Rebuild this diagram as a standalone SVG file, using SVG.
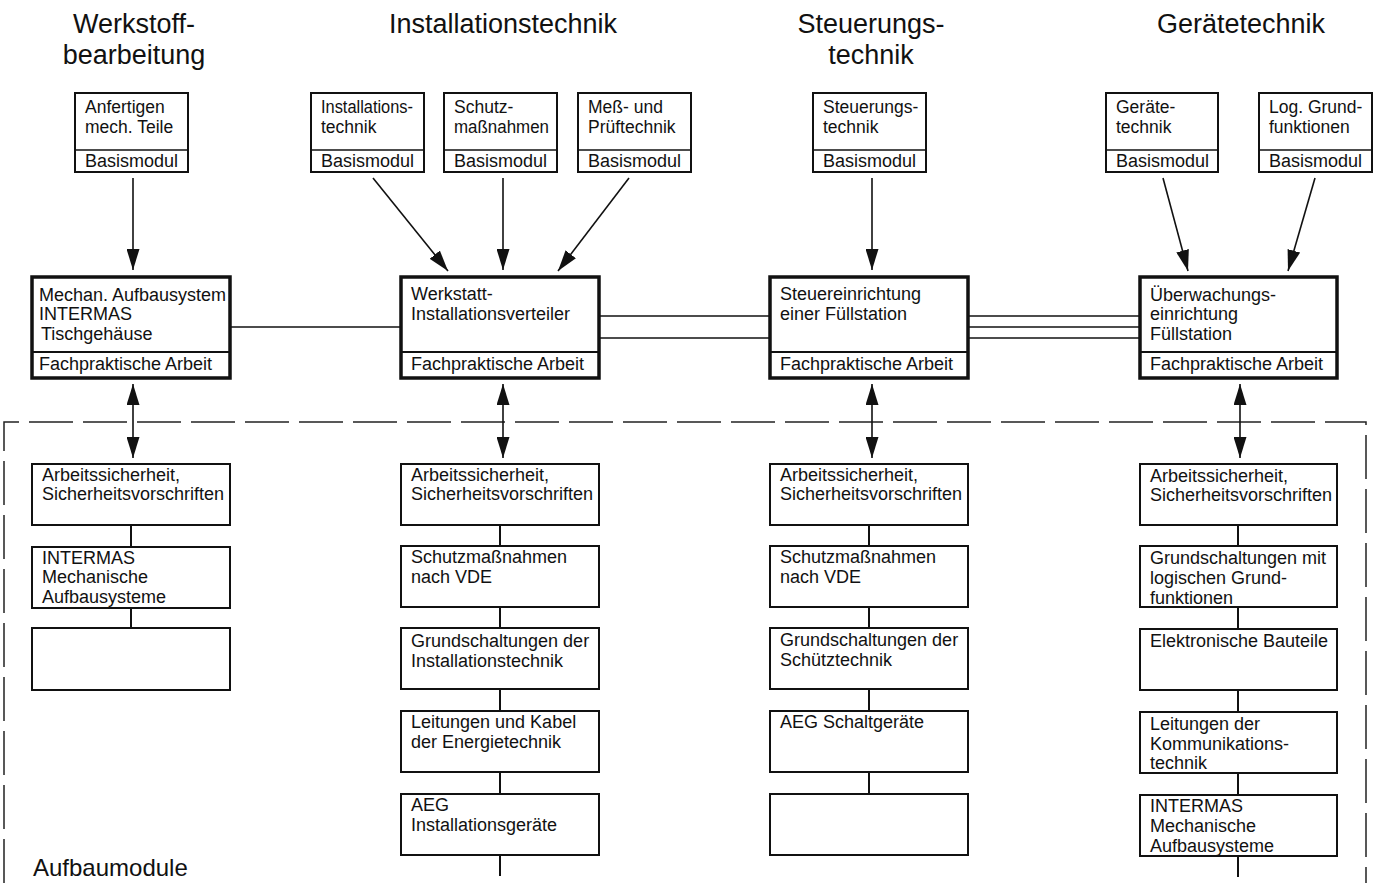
<svg xmlns="http://www.w3.org/2000/svg" width="1377" height="883" viewBox="0 0 1377 883">
<style>
text{font-family:"Liberation Sans",Arial,sans-serif;fill:#111}
.t{font-size:27px;text-anchor:middle}
.s{font-size:18px}
.u{font-size:17.5px}
.b{fill:#fff;stroke:#111;stroke-width:2}
.m{fill:#fff;stroke:#111;stroke-width:3.5}
.d{stroke:#111;stroke-width:2}
.dm{stroke:#111;stroke-width:1.5}
.ln{stroke:#111;stroke-width:1.5;fill:none}
.ar{stroke:#111;stroke-width:1.6;fill:none;marker-end:url(#ah)}
.da{stroke:#111;stroke-width:1.6;fill:none;marker-end:url(#ah);marker-start:url(#ah)}
.dash{stroke:#222;stroke-width:1.5;fill:none;stroke-dasharray:44 10}
</style>
<defs>
<marker id="ah" markerUnits="userSpaceOnUse" markerWidth="21" markerHeight="13" refX="21" refY="6.5" orient="auto-start-reverse">
<path d="M0,0 L21,6.5 L0,13 z" fill="#111"/>
</marker>
</defs>
<rect width="1377" height="883" fill="#fff"/>

<g id="titles">
<text class="t" x="134" y="33">Werkstoff-</text>
<text class="t" x="134" y="64">bearbeitung</text>
<text class="t" x="503" y="33">Installationstechnik</text>
<text class="t" x="871" y="33">Steuerungs-</text>
<text class="t" x="871" y="64">technik</text>
<text class="t" x="1241" y="33">Gerätetechnik</text>
</g>

<g id="frame">
<path class="dash" d="M4,883 L4,422 L1366,422 L1366,883"/>
</g>

<g id="connectors">
<line class="ar" x1="133" y1="178" x2="133" y2="270"/>
<line class="ar" x1="373" y1="178" x2="448" y2="271"/>
<line class="ar" x1="503" y1="178" x2="503" y2="270"/>
<line class="ar" x1="629" y1="178" x2="558" y2="271"/>
<line class="ar" x1="872" y1="178" x2="872" y2="270"/>
<line class="ar" x1="1163" y1="178" x2="1188" y2="271"/>
<line class="ar" x1="1315" y1="178" x2="1288" y2="271"/>
<line class="ln" x1="230" y1="327" x2="401" y2="327"/>
<line class="ln" x1="599" y1="316" x2="770" y2="316"/>
<line class="ln" x1="599" y1="338" x2="770" y2="338"/>
<line class="ln" x1="968" y1="316" x2="1140" y2="316"/>
<line class="ln" x1="968" y1="327" x2="1140" y2="327"/>
<line class="ln" x1="968" y1="338" x2="1140" y2="338"/>
<line class="da" x1="133" y1="384" x2="133" y2="458"/>
<line class="da" x1="503" y1="384" x2="503" y2="458"/>
<line class="da" x1="872" y1="384" x2="872" y2="458"/>
<line class="da" x1="1240" y1="384" x2="1240" y2="458"/>
<line class="d" x1="131" y1="525" x2="131" y2="547"/>
<line class="d" x1="131" y1="608" x2="131" y2="628"/>
<line class="d" x1="500" y1="525" x2="500" y2="546"/>
<line class="d" x1="500" y1="607" x2="500" y2="628"/>
<line class="d" x1="500" y1="689" x2="500" y2="711"/>
<line class="d" x1="500" y1="772" x2="500" y2="794"/>
<line class="d" x1="500" y1="855" x2="500" y2="876"/>
<line class="d" x1="869" y1="525" x2="869" y2="546"/>
<line class="d" x1="869" y1="607" x2="869" y2="628"/>
<line class="d" x1="869" y1="689" x2="869" y2="711"/>
<line class="d" x1="869" y1="772" x2="869" y2="794"/>
<line class="d" x1="1238" y1="525" x2="1238" y2="546"/>
<line class="d" x1="1238" y1="607" x2="1238" y2="628"/>
<line class="d" x1="1238" y1="689" x2="1238" y2="711"/>
<line class="d" x1="1238" y1="772" x2="1238" y2="794"/>
<line class="d" x1="1238" y1="855" x2="1238" y2="877"/>
</g>

<g id="basis1"><rect class="b" x="75" y="93" width="113" height="79"/><line class="dm" x1="75" y1="150" x2="188" y2="150"/>
<text class="u" x="85" y="113">Anfertigen</text><text class="u" x="85" y="133">mech. Teile</text><text class="s" x="85" y="167">Basismodul</text></g>
<g id="basis2"><rect class="b" x="311" y="93" width="113" height="79"/><line class="dm" x1="311" y1="150" x2="424" y2="150"/>
<text class="u" x="321" y="113" textLength="92" lengthAdjust="spacingAndGlyphs">Installations-</text><text class="u" x="321" y="133">technik</text><text class="s" x="321" y="167">Basismodul</text></g>
<g id="basis3"><rect class="b" x="444" y="93" width="113" height="79"/><line class="dm" x1="444" y1="150" x2="557" y2="150"/>
<text class="u" x="454" y="113">Schutz-</text><text class="u" x="454" y="133" textLength="95" lengthAdjust="spacingAndGlyphs">maßnahmen</text><text class="s" x="454" y="167">Basismodul</text></g>
<g id="basis4"><rect class="b" x="578" y="93" width="113" height="79"/><line class="dm" x1="578" y1="150" x2="691" y2="150"/>
<text class="u" x="588" y="113">Meß- und</text><text class="u" x="588" y="133">Prüftechnik</text><text class="s" x="588" y="167">Basismodul</text></g>
<g id="basis5"><rect class="b" x="813" y="93" width="113" height="79"/><line class="dm" x1="813" y1="150" x2="926" y2="150"/>
<text class="u" x="823" y="113">Steuerungs-</text><text class="u" x="823" y="133">technik</text><text class="s" x="823" y="167">Basismodul</text></g>
<g id="basis6"><rect class="b" x="1106" y="93" width="112" height="79"/><line class="dm" x1="1106" y1="150" x2="1218" y2="150"/>
<text class="u" x="1116" y="113">Geräte-</text><text class="u" x="1116" y="133">technik</text><text class="s" x="1116" y="167">Basismodul</text></g>
<g id="basis7"><rect class="b" x="1259" y="93" width="113" height="79"/><line class="dm" x1="1259" y1="150" x2="1372" y2="150"/>
<text class="u" x="1269" y="113">Log. Grund-</text><text class="u" x="1269" y="133">funktionen</text><text class="s" x="1269" y="167">Basismodul</text></g>

<g id="main1"><rect class="m" x="32" y="277" width="198" height="101"/><line class="d" x1="32" y1="352" x2="230" y2="352"/>
<text class="s" x="39" y="301">Mechan. Aufbausystem</text><text class="s" x="39" y="320">INTERMAS</text><text class="s" x="41" y="340">Tischgehäuse</text><text class="s" x="39" y="370">Fachpraktische Arbeit</text></g>
<g id="main2"><rect class="m" x="401" y="277" width="198" height="101"/><line class="d" x1="401" y1="352" x2="599" y2="352"/>
<text class="s" x="411" y="300">Werkstatt-</text><text class="s" x="411" y="320">Installationsverteiler</text><text class="s" x="411" y="370">Fachpraktische Arbeit</text></g>
<g id="main3"><rect class="m" x="770" y="277" width="198" height="101"/><line class="d" x1="770" y1="352" x2="968" y2="352"/>
<text class="s" x="780" y="300">Steuereinrichtung</text><text class="s" x="780" y="320">einer Füllstation</text><text class="s" x="780" y="370">Fachpraktische Arbeit</text></g>
<g id="main4"><rect class="m" x="1140" y="277" width="197" height="101"/><line class="d" x1="1140" y1="352" x2="1337" y2="352"/>
<text class="s" x="1150" y="301">Überwachungs-</text><text class="s" x="1150" y="320">einrichtung</text><text class="s" x="1150" y="340">Füllstation</text><text class="s" x="1150" y="370">Fachpraktische Arbeit</text></g>

<g id="c1b1"><rect class="b" x="32" y="464" width="198" height="61"/><text class="s" x="42" y="481">Arbeitssicherheit,</text><text class="s" x="42" y="500">Sicherheitsvorschriften</text></g>
<g id="c1b2"><rect class="b" x="32" y="547" width="198" height="61"/><text class="s" x="42" y="564">INTERMAS</text><text class="s" x="42" y="583">Mechanische</text><text class="s" x="42" y="603">Aufbausysteme</text></g>
<g id="c1b3"><rect class="b" x="32" y="628" width="198" height="62"/></g>

<g id="c2b1"><rect class="b" x="401" y="464" width="198" height="61"/><text class="s" x="411" y="481">Arbeitssicherheit,</text><text class="s" x="411" y="500">Sicherheitsvorschriften</text></g>
<g id="c2b2"><rect class="b" x="401" y="546" width="198" height="61"/><text class="s" x="411" y="563">Schutzmaßnahmen</text><text class="s" x="411" y="583">nach VDE</text></g>
<g id="c2b3"><rect class="b" x="401" y="628" width="198" height="61"/><text class="s" x="411" y="647">Grundschaltungen der</text><text class="s" x="411" y="667">Installationstechnik</text></g>
<g id="c2b4"><rect class="b" x="401" y="711" width="198" height="61"/><text class="s" x="411" y="728">Leitungen und Kabel</text><text class="s" x="411" y="748">der Energietechnik</text></g>
<g id="c2b5"><rect class="b" x="401" y="794" width="198" height="61"/><text class="s" x="411" y="811">AEG</text><text class="s" x="411" y="831">Installationsgeräte</text></g>

<g id="c3b1"><rect class="b" x="770" y="464" width="198" height="61"/><text class="s" x="780" y="481">Arbeitssicherheit,</text><text class="s" x="780" y="500">Sicherheitsvorschriften</text></g>
<g id="c3b2"><rect class="b" x="770" y="546" width="198" height="61"/><text class="s" x="780" y="563">Schutzmaßnahmen</text><text class="s" x="780" y="583">nach VDE</text></g>
<g id="c3b3"><rect class="b" x="770" y="628" width="198" height="61"/><text class="s" x="780" y="646">Grundschaltungen der</text><text class="s" x="780" y="666">Schütztechnik</text></g>
<g id="c3b4"><rect class="b" x="770" y="711" width="198" height="61"/><text class="s" x="780" y="728">AEG Schaltgeräte</text></g>
<g id="c3b5"><rect class="b" x="770" y="794" width="198" height="61"/></g>

<g id="c4b1"><rect class="b" x="1140" y="464" width="197" height="61"/><text class="s" x="1150" y="482">Arbeitssicherheit,</text><text class="s" x="1150" y="501">Sicherheitsvorschriften</text></g>
<g id="c4b2"><rect class="b" x="1140" y="546" width="197" height="61"/><text class="s" x="1150" y="564">Grundschaltungen mit</text><text class="s" x="1150" y="584">logischen Grund-</text><text class="s" x="1150" y="604">funktionen</text></g>
<g id="c4b3"><rect class="b" x="1140" y="629" width="197" height="61"/><text class="s" x="1150" y="647">Elektronische Bauteile</text></g>
<g id="c4b4"><rect class="b" x="1140" y="712" width="197" height="61"/><text class="s" x="1150" y="730">Leitungen der</text><text class="s" x="1150" y="750">Kommunikations-</text><text class="s" x="1150" y="769">technik</text></g>
<g id="c4b5"><rect class="b" x="1140" y="795" width="197" height="61"/><text class="s" x="1150" y="812">INTERMAS</text><text class="s" x="1150" y="832">Mechanische</text><text class="s" x="1150" y="852">Aufbausysteme</text></g>

<text x="33" y="876" style="font-size:24px">Aufbaumodule</text>
</svg>
